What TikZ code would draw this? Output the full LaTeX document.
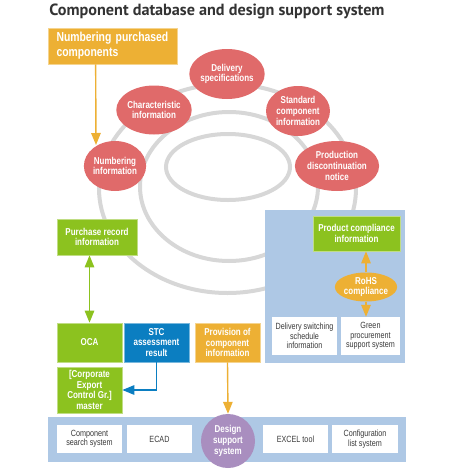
\documentclass[tikz,border=0pt]{standalone}
\usepackage{fontspec}
\setmainfont{Liberation Sans}
\newfontfamily\cf[FakeStretch=0.8]{Liberation Sans}
\newfontfamily\tf{PT Sans}
\usetikzlibrary{shapes.geometric,arrows.meta,calc}
\definecolor{cgreen}{HTML}{8CC21F}
\definecolor{cblue}{HTML}{0B7EC1}
\definecolor{corange}{HTML}{EDB034}
\definecolor{cred}{HTML}{E06A6A}
\definecolor{cpurple}{HTML}{A98EBF}
\definecolor{cpanel}{HTML}{AEC8E5}
\definecolor{cring}{HTML}{D7D7D7}
\definecolor{ctext}{HTML}{3A3A3A}
\definecolor{ctitle}{HTML}{333333}
\begin{document}
\begin{tikzpicture}[x=1pt,y=-1pt,
  ctxt/.style={font=\cf\bfseries\fontsize{10}{10.7}\selectfont, text=white, align=center},
  cbox/.style={ctxt, rectangle, inner sep=0pt, fill=#1, draw=#1!55!white, line width=0.7pt},
  wbox/.style={rectangle, inner sep=0pt, fill=white, align=center, text=ctext, font=\cf\fontsize{9}{9.5}\selectfont},
  circ/.style={ctxt, ellipse, inner sep=0pt, fill=#1},
  ring/.style={draw=cring, line width=4pt},
  arr/.style={draw=#1, line width=1.4pt, -{Triangle[width=9.5pt,length=12pt]}},
  darr/.style={draw=#1, line width=1.4pt, {Triangle[width=9.5pt,length=12pt]}-{Triangle[width=9.5pt,length=12pt]}},
  panel/.style={fill=cpanel, draw=none}
]
\useasboundingbox (0,0) rectangle (450,469);

% title
\node[font=\tf\bfseries\fontsize{16.2}{16.2}\selectfont, text=ctitle] (title) at (217,11) {Component database and design support system};

% rings
\draw[ring] (227.5,188.5) ellipse [x radius=128.5, y radius=104.5];
\draw[ring] (229,186.5) ellipse [x radius=89, y radius=74.5];
\draw[ring] (228,167) ellipse [x radius=62, y radius=33];

% red circles
\node[circ=cred, minimum width=62pt, minimum height=50pt] (numinfo) at (115,166) {Numbering\\information};
\node[circ=cred, minimum width=62pt, minimum height=49pt] (charinfo) at (154,110) {Characteristic\\information};
\node[circ=cred, minimum width=64pt, minimum height=50pt] (delspec) at (227,74) {Delivery\\specifications};
\node[circ=cred, minimum width=64pt, minimum height=50pt] (stdcomp) at (298,111) {Standard\\component\\information};
\node[circ=cred, minimum width=62pt, minimum height=50pt] (prodisc) at (337,166) {Production\\discontinuation\\notice};

% numbering purchased components
\node[cbox=corange, minimum width=129pt, minimum height=36pt, align=left, text width=112pt,
      font=\cf\bfseries\fontsize{13}{15}\selectfont] (numpc) at (112.5,46) {Numbering purchased\\components};
\draw[arr=corange] ($(numpc.south west)+(48,0)$) -- ($(numinfo.center)+(-19,-21)$);

% right panel
\path[panel] (265,210) rectangle (405,363);
\node[cbox=cgreen, minimum width=87pt, minimum height=35pt] (prodcomp) at (356.5,233.5) {Product compliance\\information};
\node[circ=corange, minimum width=55pt, minimum height=29pt] (rohs) at (366,287) {RoHS\\compliance};
\node[wbox, minimum width=65pt, minimum height=38pt] (delsw) at (304.5,336) {Delivery switching\\schedule\\information};
\node[wbox, minimum width=59pt, minimum height=38pt] (green) at (370.5,336) {Green\\procurement\\support system};
\draw[arr=corange] (rohs.north) -- (rohs.north |- prodcomp.south);
\draw[arr=corange] (rohs.south) -- (rohs.south |- green.north);

% left column
\node[cbox=cgreen, minimum width=80pt, minimum height=36pt] (purch) at (97,237) {Purchase record\\information};
\node[cbox=cgreen, minimum width=65pt, minimum height=39pt] (oca) at (89.5,342.5) {OCA};
\node[cbox=cblue, minimum width=65pt, minimum height=39pt] (stc) at (156.5,342.5) {STC\\assessment\\result};
\node[cbox=corange, minimum width=65pt, minimum height=39pt] (prov) at (227.5,342.5) {Provision of\\component\\information};
\node[cbox=cgreen, minimum width=65pt, minimum height=46pt] (corp) at (89.5,390) {[Corporate\\Export\\Control Gr.]\\master};
\draw[darr=cgreen] (oca.north) -- (oca.north |- purch.south);
\draw[arr=cblue] (stc.south) -- (stc.south |- corp.east) -- (corp.east);

% bottom panel
\path[panel] (48,417) rectangle (406,462);
\node[wbox, minimum width=65pt, minimum height=28pt] (csearch) at (89.5,439) {Component\\search system};
\node[wbox, minimum width=65pt, minimum height=28pt] (ecad) at (159.5,439) {ECAD};
\node[wbox, minimum width=65pt, minimum height=28pt] (excel) at (295.5,439) {EXCEL tool};
\node[wbox, minimum width=66pt, minimum height=28pt] (config) at (365,439) {Configuration\\list system};
\node[circ=cpurple, circle, minimum size=54pt] (design) at (228,441) {Design\\support\\system};
\draw[arr=corange] (prov.south) -- (design.north);
\end{tikzpicture}
\end{document}
